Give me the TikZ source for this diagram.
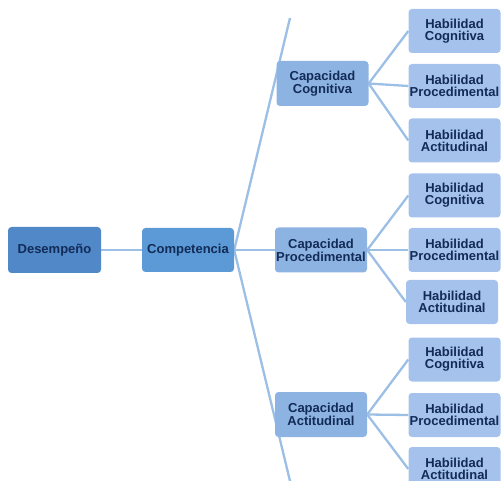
\documentclass[tikz,border=0pt]{standalone}
\usepackage{fontspec}
\setmainfont{Liberation Sans}
\usetikzlibrary{backgrounds}
\definecolor{desfill}{HTML}{5088C8}
\definecolor{compfill}{HTML}{5B9AD6}
\definecolor{capfill}{HTML}{8DB3E2}
\definecolor{habfill}{HTML}{A4C2EC}
\definecolor{linkcol}{HTML}{9CBFE6}
\definecolor{txtcol}{HTML}{132B57}
\tikzset{
  box/.style={rounded corners=3.5pt, inner sep=0pt, align=center,
    text=txtcol, font=\fontsize{13}{12}\selectfont\bfseries},
  desbox/.style={box, fill=desfill, minimum width=93pt, minimum height=46pt},
  compbox/.style={box, fill=compfill, minimum width=92pt, minimum height=44pt},
  capbox/.style={box, fill=capfill, minimum width=92pt, minimum height=45pt},
  habbox/.style={box, fill=habfill, minimum width=92pt, minimum height=44pt},
  link/.style={draw=linkcol, line width=2.3pt}
}
\begin{document}
\begin{tikzpicture}[x=1pt,y=-1pt]
\useasboundingbox (0,0) rectangle (501,481);
\node[desbox] (des) at (54.5,250) {Desempeño};
\node[compbox] (comp) at (188,250) {Competencia};
\node[capbox] (capC) at (322.5,83.5) {Capacidad\\Cognitiva};
\node[capbox] (capP) at (321,250) {Capacidad\\Procedimental};
\node[capbox] (capA) at (321,414.5) {Capacidad\\Actitudinal};
\node[habbox] (h11) at (454.5,31) {Habilidad\\Cognitiva};
\node[habbox] (h12) at (454.5,86) {Habilidad\\Procedimental};
\node[habbox] (h13) at (454.5,140.5) {Habilidad\\Actitudinal};
\node[habbox] (h21) at (454.5,195.5) {Habilidad\\Cognitiva};
\node[habbox] (h22) at (454.5,250) {Habilidad\\Procedimental};
\node[habbox] (h23) at (452,302) {Habilidad\\Actitudinal};
\node[habbox] (h31) at (454.5,359.5) {Habilidad\\Cognitiva};
\node[habbox] (h32) at (454.5,415) {Habilidad\\Procedimental};
\node[habbox] (h33) at (454.5,469) {Habilidad\\Actitudinal};
\coordinate (topend) at (290,18);
\coordinate (botend) at (290,481);
\begin{scope}[on background layer]
\draw[link] (des.east) -- (comp.west);
\draw[link] (comp.east) -- (topend);
\draw[link] (comp.east) -- (capP.west);
\draw[link] (comp.east) -- (botend);
\foreach \c/\a/\b/\d in {capC/h11/h12/h13, capP/h21/h22/h23, capA/h31/h32/h33}{
  \draw[link] (\c.east) -- (\a.west);
  \draw[link] (\c.east) -- (\b.west);
  \draw[link] (\c.east) -- (\d.west);
}
\end{scope}
\end{tikzpicture}
\end{document}
